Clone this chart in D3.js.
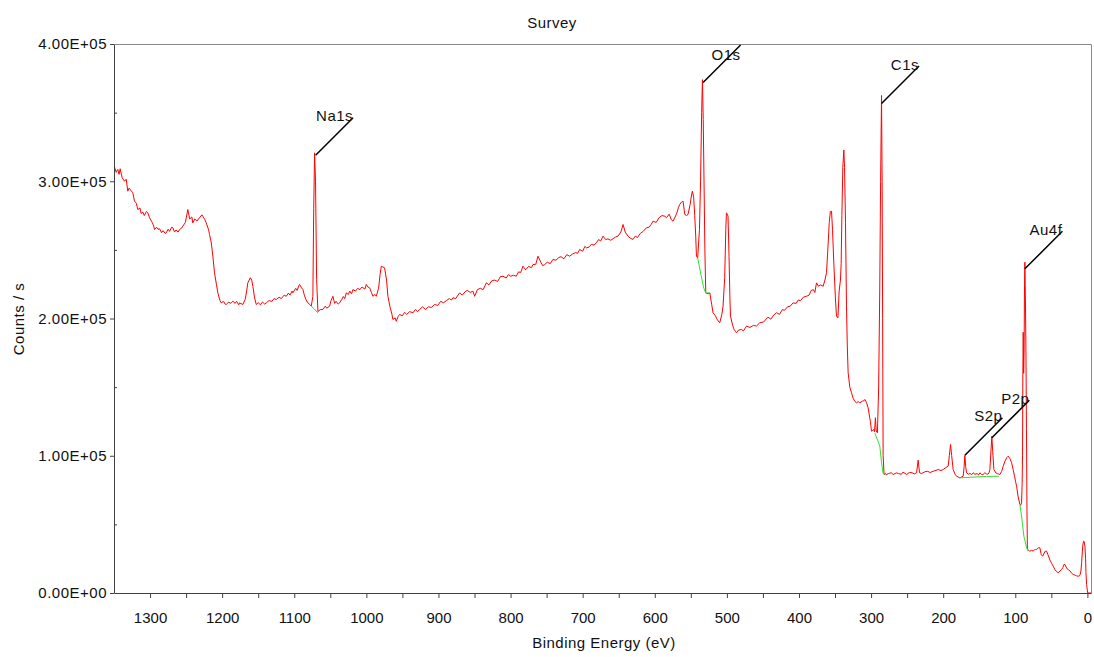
<!DOCTYPE html>
<html>
<head>
<meta charset="utf-8">
<script src="https://cdn.jsdelivr.net/npm/d3@7"></script>
<style>
  body { margin: 0; background: #fff; }
  svg { font-family: "Liberation Sans", Arial, sans-serif; }
  .lbl { font-size: 15px; letter-spacing: 0.5px; fill: #111; }
  .axis text { font-size: 15px; fill: #111; }
  .axis path, .axis line { stroke: #404040; }
</style>
</head>
<body>
<svg id="chart" width="1094" height="657"></svg>
<script>
// survey spectrum, [binding energy eV, counts/s]
var survey = [
  [1350,311000],[1349,310000],[1347,306500],[1344.7,308600],[1343,305000],[1341.4,309100],[1340,305500],[1338.6,302500],
  [1335.4,300000],[1333,301500],[1330.9,292800],[1329,295000],[1327,293500],[1323.9,291600],[1321.6,285500],[1319,284000],
  [1317,279400],[1314,280500],[1312.3,276500],[1310,277500],[1308,275000],[1305,278000],[1303.1,277000],[1300.7,273400],
  [1297,270000],[1295,267500],[1293.8,264800],[1291,266500],[1289,265000],[1286.9,265400],[1284,262500],[1282,264000],
  [1279,262000],[1277.6,262400],[1275,265000],[1273,263500],[1270,266500],[1268.4,266100],[1266,263000],[1264,264500],
  [1261,263000],[1259.1,264800],[1256,266000],[1254.5,267300],[1251,270000],[1247.6,279400],[1245,272500],[1242,274000],
  [1240.7,269700],[1238,272500],[1235,271000],[1231.4,273400],[1228,275500],[1226.8,274500],[1224,272000],[1222.1,269700],
  [1219,265000],[1217.5,261200],[1215,255000],[1212.9,245400],[1210.6,233300],[1208,225000],[1206,218700],[1203,213000],
  [1201.3,211400],[1198,212500],[1196,210500],[1194.3,210200],[1191,212000],[1188,211000],[1185.2,212600],[1182,211000],
  [1180,212500],[1177,210000],[1175.9,211400],[1171.3,210200],[1168,214000],[1166,220000],[1164.4,226000],[1161,229700],
  [1159,228000],[1157.4,223500],[1155,215000],[1152.7,210200],[1150,211500],[1147,210000],[1144,212000],[1141,210500],
  [1138.8,211400],[1135,213000],[1131,212500],[1128,214500],[1124.9,213800],[1121,215500],[1118,214500],[1114,217000],
  [1111.1,216200],[1108,218500],[1106,217000],[1103,220000],[1101.9,218700],[1098,222000],[1096,220500],[1093.5,224000],
  [1092.6,224800],[1090,222500],[1088,221100],[1086,217000],[1084,214000],[1081.1,211400],[1078,210000],[1076.4,209000],
  [1074.2,216200],[1073,280000],[1071.8,320700],[1070.5,300000],[1069,228400],[1067.2,205000],[1064,206500],[1060.3,206600],
  [1057,209000],[1055,207500],[1051,209000],[1049,213000],[1046.4,216200],[1044,211000],[1042,212500],[1039,210500],
  [1037.1,211400],[1034,214000],[1032,216000],[1030,214500],[1027.8,218700],[1025,217500],[1023,220000],[1020.5,218000],
  [1018.7,221100],[1015,220000],[1012,222000],[1009,221000],[1006,223000],[1004.8,222400],[1002,221500],[1000.1,224800],
  [998,223000],[995.5,222400],[993,219000],[990.9,216200],[988,217500],[986.2,216200],[983,222000],[981,232000],
  [979.3,238100],[977,237500],[974.7,236900],[972,228000],[970.1,216200],[967,208000],[964.5,203000],[963.2,199300],
  [960,200500],[958.5,198000],[956,201500],[953.9,202900],[950,202000],[947,204500],[944,203000],[940,205000],
  [935.4,204200],[932,206500],[929,205000],[926.1,206600],[922,208500],[918,206500],[914,208500],[910,208000],
  [905.3,210200],[901,209500],[897,212500],[893,211500],[889,213000],[885,214500],[882,213500],[879.9,215100],
  [876,214500],[873,217000],[870.6,218700],[867,217000],[863,219500],[860,220500],[856,219000],[852.2,219900],
  [849.8,216200],[846,221000],[842,222000],[838,221000],[833.6,226000],[830,224500],[826,227500],[822,228000],
  [818,227000],[814,230500],[810.5,230800],[806,229500],[803,232000],[800,230800],[796,231500],[792,230800],
  [789,234000],[786,233500],[782.8,238100],[779,235500],[775,238000],[771,237000],[768.9,239300],[765,239500],
  [762,245400],[759,242000],[755.5,238500],[752.7,239300],[749,241000],[745,240000],[741.2,243000],[737,242500],
  [733,244500],[730,245000],[726,243500],[722,246500],[718,245400],[714,247000],[710,248000],[707,247500],
  [704.1,250300],[700,249000],[697,252500],[694.8,251500],[691,252000],[688,254000],[684,253500],[681,255200],
  [678,257500],[675,256500],[671.8,260000],[668,257500],[665,258000],[661,257000],[657.9,258100],[654,259500],
  [651,260000],[647,263000],[644,268500],[641,263000],[637.1,260000],[634,258500],[630.2,257600],[627,260000],
  [624,259000],[620,262000],[616,263500],[611.6,266100],[608,266500],[605,268500],[602.4,270900],[598,270000],
  [594,273500],[590,275000],[586,274500],[583.8,273400],[580,276000],[577,272000],[574.7,270900],[570,276000],
  [567,281000],[565.4,283100],[562.5,285000],[560.8,285500],[558.4,275800],[556,275000],[553.9,275800],[551,283000],
  [549,290000],[547.8,292800],[546,288000],[544.6,275000],[543.2,260000],[542.2,245400],[540.5,244200],[538,265000],
  [536.5,300000],[535,350000],[533.9,374000],[532.8,345000],[531.7,300000],[530.5,250000],[529.3,218700],[526,218000],
  [523.7,218700],[521,210000],[519.2,204200],[516,202000],[513,199000],[511,197500],[509.9,196900],[507,203000],
  [505.3,209000],[503,230000],[501.5,265000],[500.6,277000],[499.5,276000],[498.4,274500],[497,245000],[495.8,215000],
  [495,201700],[492,195000],[490,192000],[488,190500],[486.7,189600],[484,191500],[480,192000],[477,191000],
  [472.8,194400],[468,193500],[463,195000],[459,194500],[454.4,196900],[449,197500],[443,201000],[439,199500],
  [435,202500],[431.2,204200],[427,203000],[423,206500],[420,206000],[416,208500],[412,209000],[408.2,211400],
  [404,211000],[401,213500],[398,213000],[394,215500],[389.6,216200],[386,217000],[383,220500],[380,221000],
  [378,219000],[375.7,226000],[373,223500],[370,224500],[366.5,223500],[364,228000],[361.8,233300],[359.5,255000],
  [358,270000],[356.5,278000],[354.9,278200],[353.5,265000],[351.7,240600],[349.5,215000],[348,201700],[346,200500],
  [344.3,220000],[342.5,228000],[341.5,240000],[340.5,275000],[339.2,310000],[337.8,322800],[336.8,310000],[335.5,270000],
  [334.1,209000],[333,180000],[331.8,160400],[329.5,150000],[327.1,145900],[325,142000],[322.6,139700],[320,138500],
  [318,139500],[315.6,138600],[312,139800],[310,140000],[308.7,141000],[306.5,139000],[304.1,134900],[302,128000],
  [301,125000],[299.4,117900],[297.5,118500],[296.2,119100],[295.2,117500],[294,127700],[292.8,118000],[291.2,116700],
  [289.5,150000],[288,220000],[286.8,300000],[285.5,362500],[284.7,300000],[284,200000],[283.3,100000],[282,86300],
  [280,87200],[278.6,86300],[276,87000],[272,87600],[269.4,86300],[265,87500],[262,87000],[258,86500],
  [256,88000],[253,87200],[250.8,86300],[247,87800],[243,87600],[240,86800],[236.9,87600],[234.7,96800],
  [232.8,87600],[230,87000],[226,88200],[222,88700],[218,87800],[213.9,88700],[210,89300],[207,90000],
  [203,89200],[200,90000],[196,91500],[193.1,92400],[191.5,100000],[189.8,108200],[188.2,100000],[186.2,90000],
  [183.5,86500],[181.5,85100],[176.9,83900],[174.5,84500],[172.3,85100],[171,92000],[169.9,100200],[168.8,92000],
  [167.6,87600],[165,86500],[163,87200],[160.5,86200],[158.4,87600],[156,86500],[153,87000],[151,86000],
  [149.1,87600],[147,86500],[145,86200],[142.2,87600],[140,86800],[138,86500],[136.5,87500],[135.2,90000],
  [133.6,105000],[132.5,114200],[131.3,103000],[129.7,90000],[127,87500],[125,87000],[123,86700],[121.4,86300],
  [119,88500],[117,92000],[114.4,96000],[112,98500],[109.8,99700],[107.5,98000],[105.1,94900],[103,90000],
  [101,85000],[99.5,81000],[98.2,77800],[96,70000],[93.6,64500],[92.4,64000],[91.3,65700],[90.5,80000],
  [90,100000],[89.5,160000],[89,190000],[88.4,160000],[87.8,175000],[87.2,225000],[86.7,241000],[86,215000],
  [85.3,180000],[84.5,120000],[83.8,60000],[83.2,31700],[80,30500],[77.5,31000],[75.2,30500],[73.5,31500],
  [72,31700],[70.4,31700],[68,32900],[65.9,32900],[64,28000],[62.1,26800],[60.5,28500],[58.5,30500],
  [56.6,30500],[54,27000],[52,24000],[49.5,21500],[47.4,19500],[45,17000],[42.5,15500],[40.5,14700],
  [38,16000],[35.8,17100],[34,18500],[32.5,20800],[31.2,20800],[29.5,19000],[28,17500],[26.6,17100],
  [24,16000],[22,14500],[19.7,13500],[17,13000],[15,12500],[12.7,12200],[11,12500],[10,13500],
  [9,16000],[8,22000],[7,30000],[6.3,35000],[5.4,37700],[4.5,37500],[3.4,34100],[2.5,25000],
  [2,15000],[1.1,6200],[0,1500],[-0.5,0],[-5,0]
];

// backgrounds under the quantified peaks (green)
var bgNa = [[1076.4,209000],[1072,206800],[1067.5,204200]];
var bgO = [[540.5,244200],[536,232000],[532,222000],[529.3,218700],[524.5,218700]];
var bgC = [[294.8,116500],[290,110000],[287.9,107000],[285.5,94900],[283.3,87100],[278.6,85800]];
var bgSP = [[176.9,83900],[160,84400],[140,84900],[122.8,85100]];
var bgAu = [[93.6,64500],[91.3,56000],[88.1,41400],[84.3,32900],[82.1,30500]];

// peak labels
var peakNames = ["Na1s", "O1s", "C1s", "S2p", "P2p", "Au4f"];
var peakEnergy = [1070.4, 533, 285.5, 169.9, 132.5, 86.7];
var peakCounts = [319000, 372000, 356600, 100400, 113100, 236200];

var xTicks = [1300, 1200, 1100, 1000, 900, 800, 700, 600, 500, 400, 300, 200, 100, 0];
var xMinor = [1250, 1150, 1050, 950, 850, 750, 650, 550, 450, 350, 250, 150, 50];
var yTicks = [0, 100000, 200000, 300000, 400000];
var yMinor = [50000, 150000, 250000, 350000];

var plotLeft = 114, plotRight = 1091, plotTop = 44, plotBottom = 593;

var svg = d3.select("#chart");

var x = d3.scaleLinear().domain([1350, -5]).range([plotLeft, plotRight]);
var y = d3.scaleLinear().domain([0, 400000]).range([plotBottom, plotTop]);

// E-notation like 4.00E+05
function fmtE(d) {
  var parts = d.toExponential(2).split("e");
  var e = +parts[1];
  return parts[0] + "E" + (e < 0 ? "-" : "+") + String(Math.abs(e)).padStart(2, "0");
}

svg.append("defs").append("clipPath").attr("id", "plot")
  .append("rect").attr("x", plotLeft).attr("y", plotTop - 2)
  .attr("width", plotRight - plotLeft + 3).attr("height", plotBottom - plotTop + 4);

// frame top/right
svg.append("path")
  .attr("d", "M" + (plotLeft + 0.5) + "," + (plotTop + 0.5) + "H" + (plotRight + 0.5) + "V" + (plotBottom + 0.5))
  .attr("fill", "none")
  .attr("stroke", "#8a8a8a");

var line = d3.line().x(d => x(d[0])).y(d => y(d[1]));

svg.append("path")
  .datum(survey)
  .attr("clip-path", "url(#plot)")
  .attr("fill", "none")
  .attr("stroke", "#ff0000")
  .attr("stroke-width", 1)
  .attr("d", line);

[bgNa, bgO, bgC, bgSP, bgAu].forEach(bg => {
  svg.append("path")
    .datum(bg)
    .attr("fill", "none")
    .attr("stroke", "#33dd33")
    .attr("stroke-width", 1)
    .attr("d", line);
});

// axes
svg.append("g")
  .attr("class", "axis")
  .attr("transform", "translate(" + plotLeft + ",0)")
  .call(d3.axisLeft(y).tickValues(yTicks).tickFormat(fmtE).tickSizeInner(4).tickSizeOuter(0).tickPadding(3))
  .selectAll("text").style("letter-spacing", "0.5px");

svg.append("g")
  .attr("class", "axis")
  .attr("transform", "translate(" + plotLeft + ",0)")
  .call(d3.axisLeft(y).tickValues(yMinor).tickFormat("").tickSizeInner(-3).tickSizeOuter(0))
  .select(".domain").remove();

svg.append("g")
  .attr("class", "axis")
  .attr("transform", "translate(0," + plotBottom + ")")
  .call(d3.axisBottom(x).tickValues(xTicks).tickFormat(d3.format("d")).tickSizeInner(5).tickSizeOuter(0).tickPadding(14));

svg.append("g")
  .attr("class", "axis")
  .attr("transform", "translate(0," + plotBottom + ")")
  .call(d3.axisBottom(x).tickValues(xMinor).tickFormat("").tickSizeInner(5).tickSizeOuter(0))
  .select(".domain").remove();

// peak annotations
peakNames.forEach((name, i) => {
  var x0 = x(peakEnergy[i]), y0 = y(peakCounts[i]);
  var x1 = x0 + 37.5, y1 = y0 - 37.5;
  svg.append("line")
    .attr("x1", x0).attr("y1", y0)
    .attr("x2", x1).attr("y2", y1)
    .attr("stroke", "#000")
    .attr("stroke-width", 1.5);
  svg.append("text")
    .attr("class", "lbl")
    .attr("x", x1)
    .attr("y", Math.max(y1 + 3.5, plotTop + 16))
    .attr("text-anchor", "end")
    .text(name);
});

// titles
svg.append("text")
  .attr("class", "lbl")
  .attr("x", 552)
  .attr("y", 28)
  .attr("text-anchor", "middle")
  .text("Survey");

svg.append("text")
  .attr("class", "lbl")
  .attr("x", 604)
  .attr("y", 648)
  .attr("text-anchor", "middle")
  .text("Binding Energy (eV)");

svg.append("text")
  .attr("class", "lbl")
  .attr("transform", "translate(24,319) rotate(-90)")
  .attr("text-anchor", "middle")
  .text("Counts / s");
</script>
</body>
</html>
